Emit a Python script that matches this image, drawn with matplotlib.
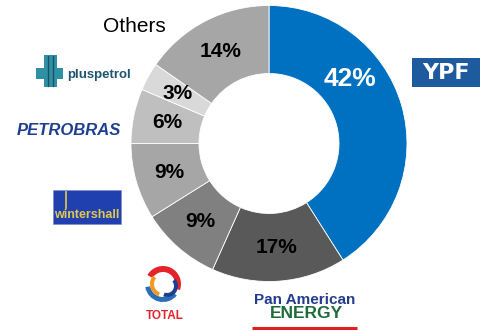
import numpy as np
import matplotlib
matplotlib.use('Agg')
import matplotlib.pyplot as plt
from matplotlib.patches import Rectangle, Wedge

plt.rcParams['font.family'] = ['Liberation Sans', 'DejaVu Sans']

# datos (sentido horario desde las 12)
companies = ['YPF', 'Pan American Energy', 'Total', 'Wintershall', 'Petrobras', 'Pluspetrol', 'Others']
shares = [41.0, 15.7, 9.4, 8.9, 6.4, 3.3, 15.3]   # tamano de las porciones
pct_labels = ['42%', '17%', '9%', '9%', '6%', '3%', '14%']
colors = ['#0070C0', '#595959', '#808080', '#A6A6A6', '#BFBFBF', '#D9D9D9', '#A6A6A6']

W, H = 481, 331
fig = plt.figure(figsize=(W / 100, H / 100), dpi=100)
ax = fig.add_axes([0, 0, 1, 1])

def Y(y):
    # coordenadas de pixel (y hacia abajo) -> datos
    return H - y

cx, cy = 269, Y(143.5)
R, r_in = 138, 70

wedges, _ = ax.pie(shares, colors=colors, startangle=90, counterclock=False,
                   radius=R, center=(cx, cy),
                   wedgeprops=dict(width=R - r_in, edgecolor='white', linewidth=0.6))

# etiquetas de porcentaje
label_angle = {'YPF': 38.5}
for w, name, lab in zip(wedges, companies, pct_labels):
    ang = label_angle.get(name, (w.theta1 + w.theta2) / 2)
    rr = 104
    x = cx + rr * np.cos(np.radians(ang))
    y = cy + rr * np.sin(np.radians(ang))
    if name == 'YPF':
        ax.text(x, y, lab, color='white', fontsize=19, fontweight='bold', ha='center', va='center')
    else:
        ax.text(x, y, lab, color='black', fontsize=15, fontweight='bold', ha='center', va='center')

# "logos"
ax.text(134, Y(27), 'Others', fontsize=15, ha='center', va='center')

# pluspetrol
ax.add_patch(Rectangle((36, Y(79)), 27, 11, color='#2E8FA5', lw=0))
ax.add_patch(Rectangle((44, Y(87)), 13, 32, color='#2E8FA5', lw=0))
ax.plot([48, 48], [Y(56), Y(86)], color='#1B4F63', lw=0.9)
ax.plot([53, 53], [Y(56), Y(86)], color='#1B4F63', lw=0.9)
ax.text(99.5, Y(75), 'pluspetrol', color='#1D5570', fontsize=9.5, fontweight='bold',
        ha='center', va='center')

# petrobras
ax.text(69, Y(131), 'PETROBRAS', color='#1F3F90', fontsize=12, fontweight='bold',
        fontstyle='italic', ha='center', va='center')

# wintershall
ax.add_patch(Rectangle((53, Y(224)), 68, 34, facecolor='#2040B0', edgecolor='#8090C8', lw=0.5))
ax.plot([66.5, 66.5], [Y(192), Y(208)], color='#D8C04A', lw=1.3)
ax.text(87, Y(215.5), 'wintershall', color='#E0C850', fontsize=9, fontweight='bold',
        ha='center', va='center')

# total
tx, ty = 163, Y(284)
ax.add_patch(Wedge((tx, ty), 18, -20, 150, width=6, color='#E4242B', lw=0))
ax.add_patch(Wedge((tx, ty), 18, 190, 320, width=5, color='#2A6FB8', lw=0))
ax.add_patch(Wedge((tx, ty), 13, 140, 250, width=4, color='#F39A1E', lw=0))
ax.add_patch(Wedge((tx + 4, ty - 2), 11, 250, 40, width=4, color='#1D3F8F', lw=0))
ax.text(164.5, Y(316), 'TOTAL', color='#E4242B', fontsize=8.5, fontweight='bold',
        ha='center', va='center')

# pan american energy
ax.text(305, Y(300.5), 'Pan American', color='#243C8C', fontsize=11, fontweight='bold',
        ha='center', va='center')
ax.text(306, Y(313.5), 'ENERGY', color='#1F6B3A', fontsize=12.5, fontweight='bold',
        ha='center', va='center')
ax.plot([252, 357], [Y(328), Y(328)], color='#E02020', lw=2.2, solid_capstyle='butt')

# ypf
ax.add_patch(Rectangle((412, Y(87)), 69, 29, color='#1D5A9E', lw=0))
ax.text(446, Y(73), 'YPF', color='white', fontsize=16, fontweight='bold',
        family='DejaVu Sans', ha='center', va='center')

ax.set_xlim(0, W)
ax.set_ylim(0, H)
ax.set_aspect('equal')
ax.axis('off')

fig.savefig('out.png', dpi=100)
